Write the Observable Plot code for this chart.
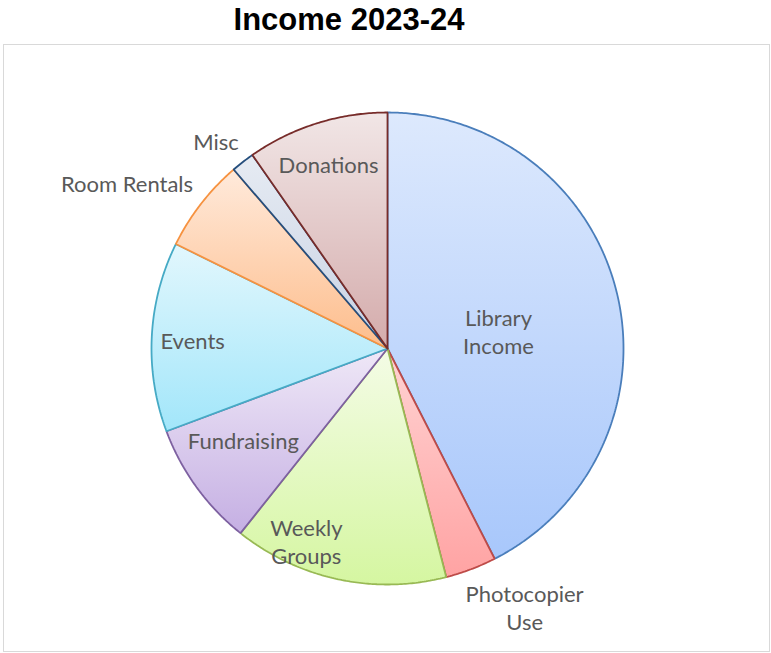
<!DOCTYPE html>
<html><head><meta charset="utf-8">
<script src="https://cdn.jsdelivr.net/npm/d3@7"></script>
<script src="https://cdn.jsdelivr.net/npm/@observablehq/plot@0.6"></script>
<style>
html,body{margin:0;padding:0;background:#fff;}
#wrap{position:relative;width:771px;height:653px;overflow:hidden;}
#title{position:absolute;left:0;top:4px;width:698px;text-align:center;font:bold 31px "Liberation Sans",Arial,sans-serif;line-height:31px;color:#000;}
#box{position:absolute;left:3px;top:44px;width:765px;height:606px;border:1px solid #d9d9d9;}
#chart{position:absolute;left:0;top:44px;}
</style></head>
<body><div id="wrap"><div id="box"></div><div id="title">Income 2023-24</div><div id="chart"></div></div>
<script>
// Data (percent share of income)
const categories = ["Library Income", "Photocopier Use", "Weekly Groups", "Fundraising", "Events", "Room Rentals", "Misc", "Donations"];
const values = [42.5, 3.5, 14.7, 8.6, 13.0, 6.4, 1.6, 9.7];
const labelText = ["Library\nIncome", "Photocopier\nUse", "Weekly\nGroups", "Fundraising", "Events", "Room Rentals", "Misc", "Donations"];

// Styles
const gradTop    = ["#dde9fd", "#ffd3d3", "#f4fce6", "#efe8f7", "#e2f7fd", "#ffeadb", "#e6ebf3", "#f1e6e6"];
const gradBottom = ["#a8c7fb", "#ffa3a3", "#d5f6a1", "#c5afe3", "#a2e6fa", "#fdbd8c", "#c8d2e3", "#d4abab"];
const strokes    = ["#4a7ebb", "#be4b48", "#98b954", "#7d60a0", "#46aac5", "#f69240", "#254e7d", "#772c2a"];

// Label layout (radius as fraction of pie radius, angle nudge in degrees from slice mid-angle)
const labelRadius = [0.474, 1.25, 0.896, 0.73, 0.826, 1.30, 1.13, 0.81];
const labelNudge  = [6.2, -7.0, 10.5, 2.8, -1.4, -5.9, -2.2, -0.5];

const arcs = d3.pie().sort(null).value(d => d)(values);
const step = Math.PI / 360;
const slices = arcs.map((a, i) => {
  const pts = [{x: 0, y: 0, i}];
  const n = Math.max(2, Math.ceil((a.endAngle - a.startAngle) / step));
  for (let k = 0; k <= n; k++) {
    const t = a.startAngle + (a.endAngle - a.startAngle) * k / n;
    pts.push({x: Math.sin(t), y: Math.cos(t), i});
  }
  pts.push({x: 0, y: 0, i});
  return pts;
});
const outline = slices.flatMap(s => s.slice(1, -1));

const labelData = arcs.map((a, i) => {
  const t = (a.startAngle + a.endAngle) / 2 + labelNudge[i] * Math.PI / 180;
  return {x: labelRadius[i] * Math.sin(t), y: labelRadius[i] * Math.cos(t), label: labelText[i], category: categories[i]};
});

const defs = () => {
  const d = d3.create("svg:defs");
  categories.forEach((c, i) => {
    const g = d.append("linearGradient").attr("id", "g" + i)
      .attr("x1", 0).attr("y1", 0).attr("x2", 0).attr("y2", 1);
    g.append("stop").attr("offset", "0%").attr("stop-color", gradTop[i]);
    g.append("stop").attr("offset", "100%").attr("stop-color", gradBottom[i]);
  });
  const f = d.append("filter").attr("id", "pieShadow")
    .attr("x", "-10%").attr("y", "-10%").attr("width", "120%").attr("height", "125%");
  f.append("feDropShadow").attr("dx", 0).attr("dy", 2).attr("stdDeviation", 2.5)
    .attr("flood-color", "#000").attr("flood-opacity", 0.35);
  return d.node();
};

const chart = Plot.plot({
  width: 771,
  height: 609,
  marginLeft: 151,
  marginRight: 148,
  marginTop: 68,
  marginBottom: 69,
  x: {domain: [-1, 1], axis: null},
  y: {domain: [-1, 1], axis: null},
  style: {background: "transparent", overflow: "visible"},
  marks: [
    defs,
    Plot.line(outline, {x: "x", y: "y", fill: "white", stroke: "none", ariaLabel: "pie-shadow"}),
    ...slices.map((s, i) => Plot.line(s, {
      x: "x", y: "y",
      fill: `url(#g${i})`,
      stroke: strokes[i],
      strokeWidth: 1.8,
      strokeLinejoin: "miter",
      curve: "linear"
    })),
    Plot.text(labelData, {
      x: "x", y: "y", text: "label", dy: -3,
      fontFamily: "Lato", fontSize: 22, fill: "#595959", lineHeight: 1.27
    })
  ]
});
d3.select(chart).select('g[aria-label="pie-shadow"]').attr("filter", "url(#pieShadow)");
document.getElementById("chart").appendChild(chart);
</script>
</body></html>
